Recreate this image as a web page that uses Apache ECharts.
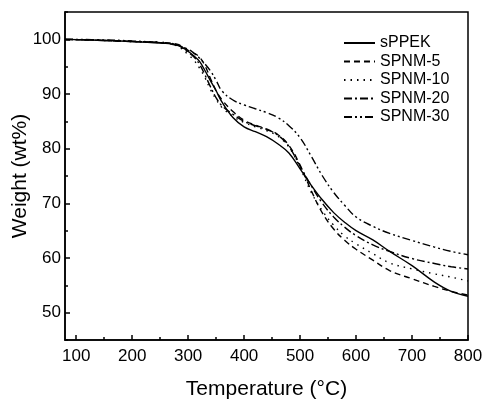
<!DOCTYPE html>
<html>
<head>
<meta charset="utf-8">
<script src="https://cdn.jsdelivr.net/npm/echarts@6/dist/echarts.min.js"></script>
<style>html,body{margin:0;padding:0;background:#fff}#c{width:486px;height:399px}</style>
</head>
<body>
<div id="c"></div>
<script>
const temps = [80,150,200,250,280,300,310,320,330,340,350,360,380,400,420,440,460,480,500,520,540,560,580,600,630,660,700,740,770,800];
const sPPEK  = [100,99.8,99.6,99.3,99.0,97.8,97.0,96.0,94.3,92.4,90.6,88.6,85.7,84.0,83.1,82.2,80.9,79.2,76.3,73.3,70.6,68.3,66.5,65.0,63.3,61.2,58.6,55.6,53.9,53.0];
const SPNM5  = [100,99.8,99.6,99.4,99.1,98.0,97.5,96.8,95.2,92.8,90.6,89.0,86.8,85.2,84.3,83.6,82.6,80.6,77.0,72.3,68.2,65.3,63.2,61.6,59.6,57.7,56.2,54.8,53.9,53.2];
const SPNM10 = [100,99.8,99.6,99.5,98.8,97.2,96.2,94.8,93.0,90.8,89.0,87.6,85.9,84.8,84.0,83.3,82.3,80.3,76.5,72.0,68.6,66.0,64.0,62.6,60.8,59.1,58.0,57.1,56.5,55.8];
const SPNM20 = [100,99.8,99.6,99.4,99.0,97.6,96.8,95.5,93.5,91.3,89.3,87.9,86.3,85.0,84.2,83.5,82.5,80.4,76.8,73.2,70.0,67.5,65.6,64.1,62.4,61.2,59.9,59.0,58.4,58.0];
const SPNM30 = [100,99.9,99.7,99.4,98.9,98.2,97.5,96.6,95.5,94.2,92.5,90.6,88.9,88.0,87.3,86.6,85.7,84.2,82.0,78.6,75.0,72.0,69.6,67.5,65.8,64.5,63.2,62.0,61.2,60.6];
const seriesNames = ['sPPEK','SPNM-5','SPNM-10','SPNM-20','SPNM-30'];
const xMajor = [100,200,300,400,500,600,700,800];
const xMinor = [150,250,350,450,550,650,750];
const yMajor = [50,60,70,80,90,100];
const yMinor = [45,55,65,75,85,95,105];

const values = [sPPEK, SPNM5, SPNM10, SPNM20, SPNM30];
const dashes = ['solid', [6,4], [1.5,5], [8,3,2,3], [8,3,2,3,2,3]];
const FONT = 'Liberation Sans, Arial, Helvetica, sans-serif';

function axisBase(extra){
  return Object.assign({
    type:'value', splitLine:{show:false},
    axisLine:{show:true,lineStyle:{color:'#000',width:1.5}},
  }, extra);
}

const option = {
  animation:false,
  backgroundColor:'#fff',
  grid:{left:65,right:18,top:12,bottom:59,show:true,borderColor:'#000',borderWidth:1.5,
        containLabel:false,outerBoundsMode:'none'},
  legend:{
    orient:'vertical', left:343, top:35, padding:0, itemWidth:31, itemHeight:16, itemGap:2.5,
    itemStyle:{opacity:0},
    textStyle:{fontFamily:FONT,fontSize:16,color:'#000',lineHeight:16},
    data:seriesNames
  },
  xAxis:[
    axisBase({min:80,max:800,position:'bottom',
      name:'Temperature (°C)',nameLocation:'middle',nameGap:39,nameMoveOverlap:false,
      nameTextStyle:{fontFamily:FONT,fontSize:21,color:'#000'},
      axisTick:{show:true,inside:true,length:5,lineStyle:{color:'#000',width:1.5},customValues:xMajor},
      axisLabel:{show:true,customValues:xMajor,margin:8,fontFamily:FONT,fontSize:17,color:'#000'}}),
    axisBase({min:80,max:800,position:'bottom',
      axisLine:{show:false},
      axisTick:{show:true,inside:true,length:3,lineStyle:{color:'#000',width:1.5},customValues:xMinor},
      axisLabel:{show:false}})
  ],
  yAxis:[
    axisBase({min:45,max:105,position:'left',
      name:'Weight (wt%)',nameLocation:'middle',nameGap:34,nameMoveOverlap:false,
      nameTextStyle:{fontFamily:FONT,fontSize:21,color:'#000'},
      axisTick:{show:true,inside:true,length:5,lineStyle:{color:'#000',width:1.5},customValues:yMajor},
      axisLabel:{show:true,customValues:yMajor,margin:4,fontFamily:FONT,fontSize:17,color:'#000'}}),
    axisBase({min:45,max:105,position:'left',
      axisLine:{show:false},
      axisTick:{show:true,inside:true,length:3,lineStyle:{color:'#000',width:1.5},customValues:yMinor},
      axisLabel:{show:false}})
  ],
  series: seriesNames.map((n,i)=>({
    name:n, type:'line', xAxisIndex:0, yAxisIndex:0,
    data: temps.map((t,k)=>[t, values[i][k]]),
    smooth:0.4, showSymbol:false, symbol:'none',
    lineStyle:{color:'#000',width:1.4,type:dashes[i]},
    itemStyle:{color:'#000'}
  }))
};
echarts.init(document.getElementById('c'),null,{renderer:'canvas'}).setOption(option);
</script>
</body>
</html>
